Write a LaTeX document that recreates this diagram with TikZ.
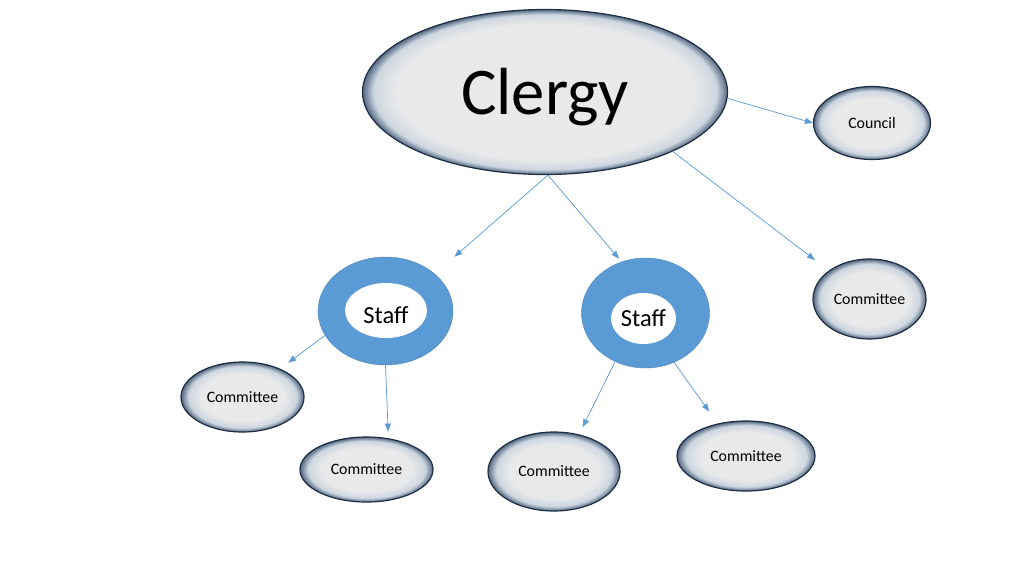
\documentclass[tikz,border=0pt]{standalone}
\usepackage{fontspec}
\setmainfont{Carlito}
\usetikzlibrary{shapes.geometric}
\usetikzlibrary{arrows.meta}
\definecolor{ctr}{RGB}{233,233,234}
\definecolor{mid}{RGB}{205,214,224}
\definecolor{rim}{RGB}{84,104,130}
\definecolor{edge}{RGB}{30,45,66}
\definecolor{ring}{RGB}{91,155,213}
\definecolor{arrowblue}{RGB}{91,155,213}
\pgfdeclareradialshading{glow}{\pgfpoint{0bp}{0bp}}{color(0bp)=(ctr); color(17bp)=(ctr); color(22bp)=(mid); color(25bp)=(rim); color(50bp)=(rim)}
\pgfdeclareradialshading{bigglow}{\pgfpoint{0bp}{0bp}}{color(0bp)=(ctr); color(20.5bp)=(ctr); color(23.5bp)=(mid); color(25bp)=(rim); color(50bp)=(rim)}
\newcommand\sink[2]{\raisebox{-#1}[\height][\depth]{#2}}

\begin{document}
\begin{tikzpicture}[x=0.75pt,y=-0.75pt,
  bubble/.style={ellipse,draw=edge,line width=0.9pt,shading=glow,inner sep=0pt,font=\fontsize{11.9}{14}\selectfont},
  ringnode/.style={ellipse,fill=ring,draw=ring!85!black,line width=0.3pt,inner sep=0pt},
  hole/.style={ellipse,fill=white,inner sep=0pt,font=\fontsize{18.4}{22}\selectfont},
  arr/.style={draw=arrowblue,line width=0.55pt,-{Triangle[length=6pt,width=4.5pt]}}]

\useasboundingbox (0,0) rectangle (1024,576);

\node[bubble,shading=bigglow,minimum width=273.75pt,minimum height=123.75pt,font=\fontsize{50}{58}\selectfont] (clergy) at (545,92) {\sink{3.75pt}{Clergy}};
\node[bubble,minimum width=87.75pt,minimum height=54.75pt] (council) at (872,123) {Council};
\node[bubble,minimum width=84.75pt,minimum height=60pt] (comR) at (869.5,299) {Committee};

\node[ringnode,minimum width=101.25pt,minimum height=81pt] (staffL) at (385.5,311) {};
\node[hole,minimum width=61.5pt,minimum height=41.25pt] (holeL) at (386,310.5) {\sink{3.4pt}{Staff}};
\node[ringnode,minimum width=96pt,minimum height=82.5pt] (staffR) at (645.5,313) {};
\node[hole,minimum width=48.75pt,minimum height=38.25pt] (holeR) at (643.5,318.5) {Staff};

\node[bubble,minimum width=92.25pt,minimum height=52.5pt] (comL) at (242.5,397) {Committee};
\node[bubble,minimum width=99.75pt,minimum height=48.75pt] (comM) at (366.5,469.5) {Committee};
\node[bubble,minimum width=99pt,minimum height=59.25pt] (comB) at (554,471.5) {Committee};
\node[bubble,minimum width=103.5pt,minimum height=52.5pt] (comC) at (746,456) {Committee};

\draw[arr] (clergy.-2) -- (council.west);
\draw[arr,shorten >=19.5pt] (clergy.-88) -- (staffL.37);
\draw[arr,shorten >=3pt] (clergy.-88) -- (staffR.115);
\draw[arr,shorten >=13pt] (clergy.-25) -- (comR.145);
\draw[arr,shorten >=7.5pt] (staffL.202) -- (comL.37);
\draw[arr,shorten >=5pt] (staffL.south) -- (comM.55);
\draw[arr,shorten >=6pt] (staffR.-122) -- (comB.56);
\draw[arr,shorten >=11pt] (staffR.-60) -- (comC.131);

\end{tikzpicture}
\end{document}
